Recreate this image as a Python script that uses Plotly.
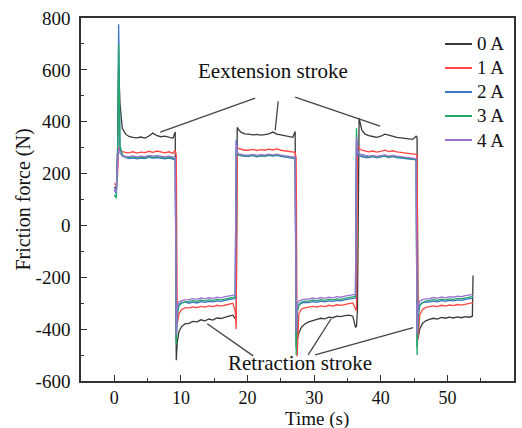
import plotly.graph_objects as go

# ---------------- data ----------------
time_s = [
    0.0, 0.3, 0.5, 0.65, 0.85, 1.2, 1.7,
    2.2, 2.8, 3.4, 4.0, 4.6, 5.2, 5.8, 6.4, 7.0, 7.6, 8.2, 8.8, 9.15,
    9.3, 9.45, 9.7, 10.1, 10.6,
    11.2, 11.8, 12.4, 13.0, 13.6, 14.2, 14.8, 15.4, 16.0, 16.6, 17.2, 17.8, 18.15,
    18.3, 18.45, 18.7, 19.1, 19.6,
    20.2, 20.8, 21.4, 22.0, 22.6, 23.2, 23.8, 24.4, 25.0, 25.6, 26.2, 26.8, 27.15,
    27.3, 27.45, 27.7, 28.1, 28.6,
    29.2, 29.8, 30.4, 31.0, 31.6, 32.2, 32.8, 33.4, 34.0, 34.6, 35.2, 35.8, 36.2,
    36.35, 36.5, 36.75, 37.15, 37.65,
    38.2, 38.8, 39.4, 40.0, 40.6, 41.2, 41.8, 42.4, 43.0, 43.6, 44.2, 44.8, 45.3,
    45.45, 45.6, 45.85, 46.25, 46.75,
    47.3, 47.9, 48.5, 49.1, 49.7, 50.3, 50.9, 51.5, 52.1, 52.7, 53.3, 53.75, 53.85,
]

force_0A = [
    148, 140, 300, 620, 470, 375, 352,
    343, 340, 338, 341, 337, 345, 356, 346, 342, 344, 339, 336, 360,
    -520, -450, -410, -390, -380,
    -378, -370, -372, -364, -368, -361, -365, -357, -359, -353, -350, -346, -360,
    -365, 378, 368, 358, 353,
    352, 349, 351, 348, 350, 353, 360, 352, 349, 346, 343, 340, 362,
    -470, -440, -415, -392, -380,
    -372, -366, -362, -358, -360, -354, -356, -350, -352, -348, -346, -350, -392,
    -390, -330, 414, 368, 352,
    346, 343, 340, 344, 352, 348, 343, 340, 338, 336, 334, 332, 344,
    340, -437, -400, -378, -368,
    -362, -358, -361, -355, -358, -354, -357, -353, -356, -352, -354, -350, -193,
]

force_1A = [
    162, 155, 200, 300, 292, 285, 282,
    280, 284, 279, 283, 281, 286, 282, 287, 283, 280, 284, 278, 290,
    270, -380, -340, -325, -318,
    -318, -314, -317, -312, -315, -310, -313, -308, -311, -306, -304, -300, -330,
    -400, 300, 296, 292, 290,
    290, 293, 289, 292, 290, 294, 291, 295, 290, 288, 286, 284, 282,
    260, -505, -340, -322, -318,
    -316, -312, -315, -310, -313, -308, -311, -306, -308, -304, -302, -299, -320,
    -330, 310, 298, 290, 286,
    284, 287, 283, 286, 290, 285, 288, 284, 282, 280, 278, 276, 274,
    270, -440, -345, -325, -316,
    -314, -310, -313, -308, -311, -307, -309, -305, -307, -303, -301, -298, -298,
]

force_2A = [
    140, 120, 300, 776, 300, 268, 262,
    258, 261, 257, 260, 258, 263, 260, 262, 259, 257, 260, 256, 254,
    -440, -330, -305, -298, -295,
    -300, -296, -299, -294, -297, -293, -295, -291, -293, -289, -287, -284, -282,
    330, 275, 270, 268, 266,
    266, 269, 265, 268, 266, 270, 267, 270, 266, 264, 262, 260, 258,
    -430, -330, -308, -300, -297,
    -298, -294, -297, -292, -295, -291, -293, -289, -291, -287, -285, -282, -280,
    330, 275, 268, 264, 262,
    262, 265, 261, 264, 267, 262, 265, 262, 260, 258, 256, 255, 253,
    -470, -340, -305, -298, -295,
    -296, -292, -295, -290, -293, -289, -291, -287, -289, -285, -283, -280, -280,
]

force_3A = [
    118, 105, 250, 700, 310, 272, 265,
    262, 264, 260, 263, 261, 266, 263, 265, 262, 260, 263, 259, 258,
    -460, -350, -310, -300, -296,
    -294, -290, -293, -288, -291, -287, -289, -285, -287, -283, -281, -278, -276,
    300, 278, 272, 270, 268,
    268, 271, 267, 270, 268, 272, 269, 272, 268, 266, 264, 262, 260,
    -500, -340, -305, -296, -292,
    -292, -288, -291, -286, -289, -285, -287, -283, -285, -281, -279, -276, -274,
    375, 282, 274, 270, 268,
    264, 267, 263, 266, 269, 264, 267, 264, 262, 260, 258, 257, 255,
    -500, -360, -310, -298, -292,
    -290, -286, -289, -284, -287, -283, -285, -281, -283, -279, -277, -274, -274,
]

force_4A = [
    135, 128, 250, 295, 280, 268, 265,
    265, 268, 264, 267, 265, 270, 267, 269, 266, 264, 267, 263, 262,
    -420, -310, -295, -290, -287,
    -286, -282, -285, -280, -283, -279, -281, -277, -279, -275, -273, -270, -268,
    320, 282, 276, 273, 271,
    271, 274, 270, 273, 271, 275, 272, 275, 271, 269, 267, 265, 263,
    -410, -305, -292, -287, -284,
    -284, -280, -283, -278, -281, -277, -279, -275, -277, -273, -271, -268, -266,
    340, 285, 276, 272, 270,
    267, 270, 266, 269, 272, 267, 270, 267, 265, 263, 261, 260, 258,
    -420, -310, -292, -286, -283,
    -282, -278, -281, -276, -279, -275, -277, -273, -275, -271, -269, -266, -266,
]

series_names = ["0 A", "1 A", "2 A", "3 A", "4 A"]
series_values = [force_0A, force_1A, force_2A, force_3A, force_4A]
series_colors = ["#3a3a3a", "#ff4545", "#3a72c8", "#22a868", "#9b72d2"]

x_ticks = [0, 10, 20, 30, 40, 50, 60]
y_ticks = [-600, -400, -200, 0, 200, 400, 600, 800]
y_tick_labels = ["-600", "-400", "-200", "0", "200", "400", "600", "800"]

ext_label = ("Eextension stroke", 23.85, 595)
ext_leaders = [((21.15, 491), (6.9, 360)), ((24.6, 479), (24.15, 367)), ((27.15, 495), (39.9, 383))]
ret_label = ("Retraction stroke", 27.9, -530)
ret_leaders = [((20.85, -503), (13.95, -379)), ((29.1, -499), (32.55, -360)), ((30.15, -499), (44.85, -394))]

# ---------------- figure ----------------
FONT = "Liberation Serif"
W, H = 522, 428
ML, MR, MT, MB = 81, 8, 18, 47
PW, PH = W - ML - MR, H - MT - MB


def px_to_paper(px, py):
    return (px - ML) / PW, (H - MB - py) / PH


fig = go.Figure()
for name, vals, col in zip(series_names, series_values, series_colors):
    fig.add_trace(go.Scatter(x=time_s, y=vals, mode="lines", name=name,
                             line=dict(color=col, width=1.3), showlegend=False))

shapes = []
for (x0, y0), (x1, y1) in ext_leaders + ret_leaders:
    shapes.append(dict(type="line", xref="x", yref="y", x0=x0, y0=y0, x1=x1, y1=y1,
                       line=dict(color="#444444", width=1.3)))

annotations = []
for txt, ax_, ay_ in [ext_label, ret_label]:
    annotations.append(dict(text=txt, x=ax_, y=ay_, xref="x", yref="y", showarrow=False,
                            font=dict(family=FONT, size=21, color="#111111")))

# legend drawn as key lines + labels (upper right, inside frame)
for i, (name, col) in enumerate(zip(series_names, series_colors)):
    py = 44 + 24 * i
    lx0, ly = px_to_paper(445, py)
    lx1, _ = px_to_paper(472, py)
    shapes.append(dict(type="line", xref="paper", yref="paper", x0=lx0, y0=ly, x1=lx1, y1=ly,
                       line=dict(color=col, width=2)))
    tx, _ = px_to_paper(475, py)
    annotations.append(dict(text=name, x=tx, y=ly, xref="paper", yref="paper",
                            xanchor="left", yanchor="middle", showarrow=False,
                            font=dict(family=FONT, size=19, color="#111111")))

# x-axis title
tx, ty = px_to_paper(317, 419)
annotations.append(dict(text="Time (s)", x=tx, y=ty, xref="paper", yref="paper",
                        xanchor="center", yanchor="middle", showarrow=False,
                        font=dict(family=FONT, size=19, color="#111111")))

axis_common = dict(showline=True, linecolor="#333333", linewidth=1.5, mirror=True,
                   ticks="inside", ticklen=6, tickwidth=1.3, tickcolor="#333333",
                   showgrid=False, zeroline=False)

fig.update_layout(
    width=W, height=H,
    margin=dict(l=ML, r=MR, t=MT, b=MB),
    paper_bgcolor="white", plot_bgcolor="white",
    showlegend=False,
    shapes=shapes,
    annotations=annotations,
    xaxis=dict(range=[-5, 60], tickvals=x_ticks, ticklabelstandoff=0,
               tickfont=dict(family=FONT, size=18, color="#111111"),
               minor=dict(dtick=5, tick0=0, ticks="inside", ticklen=3, tickcolor="#333333"),
               automargin=False, **axis_common),
    yaxis=dict(range=[-600, 800], tickvals=y_ticks, ticktext=y_tick_labels, ticklabelstandoff=5,
               tickfont=dict(family=FONT, size=19, color="#111111"),
               minor=dict(dtick=100, tick0=0, ticks="inside", ticklen=3, tickcolor="#333333"),
               title=dict(text="Friction force (N)", font=dict(family=FONT, size=20, color="#111111"),
                          standoff=0),
               automargin=False, **axis_common),
)

fig.write_html("out.html")
